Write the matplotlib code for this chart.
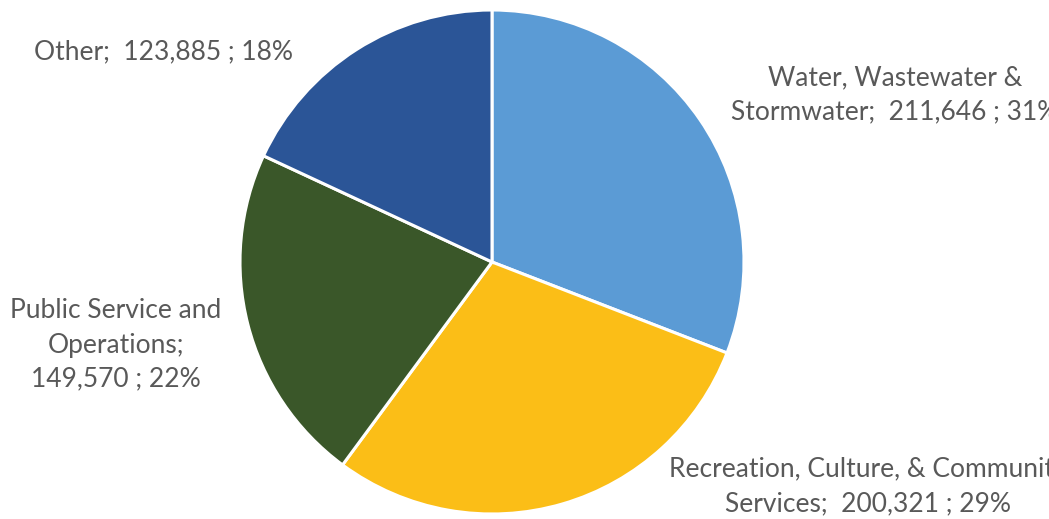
import matplotlib
matplotlib.use("Agg")
import matplotlib.pyplot as plt

categories = ["Water, Wastewater &\nStormwater", "Recreation, Culture, & Community\nServices",
              "Public Service and\nOperations", "Other"]
values = [211646, 200321, 149570, 123885]
colors = ["#5B9BD5", "#FBBE17", "#3A5729", "#2B5597"]

W, H = 1049, 519
fig = plt.figure(figsize=(W / 100, H / 100), dpi=100)
cx, cy, r = 492, 262, 252
ax = fig.add_axes([(cx - r) / W, (H - cy - r) / H, 2 * r / W, 2 * r / H])
ax.pie(values, colors=colors, startangle=90, counterclock=False, radius=1,
       wedgeprops=dict(edgecolor="white", linewidth=2.2))
ax.set_xlim(-1, 1)
ax.set_ylim(-1, 1)
ax.axis("off")

total = sum(values)
labels = []
for c, v in zip(categories, values):
    labels.append(f"{c};  {v:,} ; {round(100 * v / total)}%")
labels[2] = f"Public Service and\nOperations;\n{values[2]:,} ; {round(100 * values[2] / total)}%"

# label anchor positions in pixels (center x, center y)
pos = [(895, 95), (868, 487), (116, 345), (163, 52)]
for lab, (px, py) in zip(labels, pos):
    fig.text(px / W, 1 - py / H, lab, ha="center", va="center", multialignment="center",
             fontsize=19, color="#595959", family=["Lato", "DejaVu Sans"], linespacing=1.45)

fig.savefig("out.png", dpi=100)
